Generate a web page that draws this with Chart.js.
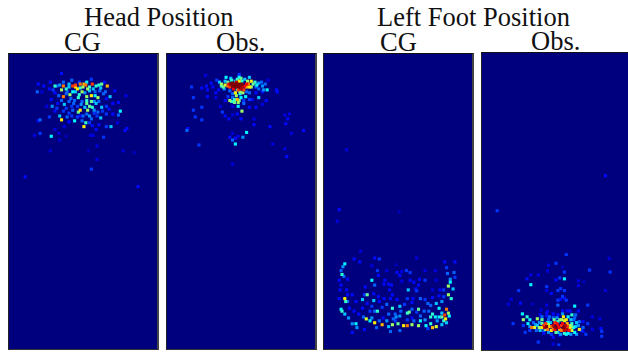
<!DOCTYPE html>
<html>
<head>
<meta charset="utf-8">
<script src="https://cdn.jsdelivr.net/npm/chart.js@4/dist/chart.umd.min.js"></script>
<style>
  html, body { margin: 0; padding: 0; background: #fff; width: 628px; height: 353px; overflow: hidden; }
  .label { position: absolute; font-family: "Liberation Serif", serif; color: #111; font-size: 26.5px; line-height: 26px; white-space: nowrap; }
  .panel { position: absolute; overflow: hidden; background: #00007f; box-sizing: border-box;
           border-top: 1px solid #111; border-right: 2px solid #444; border-bottom: 1px solid #333; border-left: 1px solid #222; }
  canvas { display: block; filter: blur(0.7px); }
</style>
</head>
<body>
<div class="label" style="left:84px;top:4px">Head Position</div>
<div class="label" style="left:64px;top:29px">CG</div>
<div class="label" style="left:216px;top:29px">Obs.</div>
<div class="label" style="left:377px;top:4px">Left Foot Position</div>
<div class="label" style="left:380px;top:29px">CG</div>
<div class="label" style="left:531px;top:28px">Obs.</div>

<div class="panel" style="left:8px;top:53px;width:151px;height:297px"><canvas id="headCg"></canvas></div>
<div class="panel" style="left:166px;top:53px;width:151px;height:297px"><canvas id="headObs"></canvas></div>
<div class="panel" style="left:323px;top:53px;width:151px;height:297px"><canvas id="footCg"></canvas></div>
<div class="panel" style="left:481px;top:52px;width:151px;height:299px"><canvas id="footObs"></canvas></div>

<script>
// Cellen: [x, y, intensitet 0-1]
const headCgCells = [
  [52,16,.2],[27,27,.2],[33,29,.2],[40,25,.2],[26,35,.3],[31,35,.15],[39,32,.2],[43,33,.25],[47,29,.3],[45,29,.5],
  [54,25,.3],[63,23,.3],[71,25,.25],[79,25,.45],[84,22,.25],[98,25,.2],[101,29,.75],[94,31,.4],[99,35,.3],[109,34,.2],[121,39,.15],
  [54,29,.8],[64,29,.85],[67,28,.85],[72,27,.8],[78,28,.8],[85,27,.85],[89,29,.5],[82,30,.5],[75,30,.6],[69,32,.7],[60,30,.4],[52,33,.6],[57,32,.5],
  [54,40,.8],[61,38,.6],[67,35,.4],[74,35,.6],[79,40,.6],[84,39,.7],[91,41,.6],[79,44,.5],[70,41,.5],[62,42,.3],[57,37,.3],[49,39,.3],[104,40,.4],[97,37,.3],[88,35,.3],[45,36,.2],
  [42,50,.35],[55,48,.4],[65,47,.3],[74,45,.3],[79,47,.55],[84,45,.55],[82,50,.55],[72,54,.7],[70,56,.55],[80,54,.6],[85,51,.5],[95,51,.4],[100,50,.25],[107,47,.2],[113,46,.2],[41,43,.2],[60,45,.3],[52,44,.3],[69,50,.25],[89,47,.4],[92,45,.3],[36,50,.15],
  [52,64,.7],[50,60,.4],[66,65,.45],[39,61,.25],[45,55,.2],[54,55,.25],[60,57,.25],[64,54,.3],[75,60,.3],[82,60,.35],[87,57,.25],[94,62,.4],[100,58,.25],[107,58,.2],[113,59,.3],[115,55,.45],[29,64,.3],[27,65,.2],
  [78,67,.5],[76,71,.7],[69,61,.25],[92,69,.2],[100,71,.25],[105,71,.4],[85,70,.2],[74,65,.3],[89,74,.2],[112,67,.15],[122,73,.2],[120,75,.2],[45,74,.15],[55,71,.15],[49,78,.15],[29,78,.25],[23,80,.15],[41,81,.45],[50,85,.15],[57,81,.1],[83,80,.15],[86,80,.15],[97,82,.25],[90,91,.15],
  [40,96,.15],[118,96,.15],[130,98,.1],[81,96,.1],[90,105,.15],[84,115,.25],[13,123,.2],[134,133,.2],
  [58,35,.3],[64,35,.45],[71,38,.5],[77,36,.35],[82,34,.4],[88,39,.45],[93,34,.3],[100,42,.2],[66,44,.3],[73,48,.35],[77,51,.4],[87,54,.35],[91,56,.3],[63,50,.25],[57,52,.25],[48,47,.2],[47,52,.25],[58,61,.3],[63,60,.25],[72,60,.2],[79,58,.3],[84,63,.3],[90,60,.25],[96,55,.25],[103,53,.2],[60,66,.2],[82,67,.25],[87,45,.35],[72,31,.5],[80,32,.6],[67,30,.7],[92,28,.5],[95,27,.55],[76,27,.75],[60,27,.4],[50,28,.35],[86,32,.4]
];
const headObsCells = [
  [64,27,1],[68,27,1],[71,27,1],[74,28,1],[66,29,1],[69,30,1],[73,30,1],[76,30,.95],[79,29,.9],[63,30,.85],[73,24,.7],[73,20,.45],[73,17,.25],[59,20,.45],[64,21,.4],[54,27,.6],[56,30,.55],[61,25,.55],[54,29,.5],
  [83,27,.8],[86,24,.7],[88,27,.55],[84,20,.4],[79,22,.4],[81,30,.75],[86,30,.6],[76,24,.5],[69,24,.4],[94,26,.35],[98,29,.35],[101,27,.3],[103,33,.45],[99,33,.35],[97,25,.3],[91,30,.3],[94,32,.3],[91,36,.2],[98,35,.2],[104,23,.15],[113,33,.2],[114,35,.2],
  [49,23,.25],[37,18,.15],[43,26,.2],[45,30,.2],[38,29,.2],[39,33,.2],[33,31,.2],[22,30,.25],[24,41,.25],[39,40,.2],[48,36,.2],[51,33,.2],[48,41,.15],[61,40,.25],[69,36,.7],[74,35,.6],[71,33,.5],[74,37,.45],[81,35,.3],[80,40,.45],
  [63,44,.6],[71,43,.75],[73,44,.55],[58,44,.2],[66,41,.3],[78,44,.25],[84,43,.25],[87,43,.2],[94,41,.4],[102,44,.2],[98,48,.15],[72,50,.45],[76,55,.6],[53,50,.15],[66,50,.15],[84,51,.2],[91,51,.2],[24,54,.25],[33,51,.25],[55,56,.25],
  [71,58,.2],[66,59,.15],[58,60,.2],[62,63,.2],[75,63,.2],[26,61,.25],[33,64,.25],[89,63,.15],[89,69,.2],[106,71,.2],[123,68,.2],[125,63,.2],[122,59,.15],[127,58,.15],[142,75,.2],[129,78,.15],[17,75,.3],[18,73,.2],
  [66,78,.15],[63,82,.2],[69,83,.2],[66,85,.3],[77,82,.35],[81,77,.45],[72,81,.15],[69,89,.45],[30,90,.25],[109,89,.15],[122,94,.15],[124,102,.2],[66,110,.15],
  [62,27,.9],[66,26,1],[70,25,.95],[72,29,1],[75,32,.95],[78,33,.85],[67,32,.9],[61,29,.8],[58,28,.65],[72,33,.85],[76,27,1],[81,27,.9],[84,30,.7],[77,36,.6],[70,39,.6],[68,43,.5],[75,41,.45],[90,25,.5],[92,28,.45],[65,23,.5],[75,21,.55],[71,22,.5],[82,24,.6],[52,25,.4],[58,24,.4],[57,32,.35],[63,34,.3],[84,36,.3],[66,37,.3],[72,46,.6],[68,46,.55],[65,45,.5],[78,47,.3]
];
const footCgCells = [
  [18,213,.45],[16,216,.35],[14,220,.3],[15,224,.5],[17,226,.3],[12,230,.2],[21,229,.2],[14,235,.2],[13,240,.2],[20,240,.2],[12,249,.2],[18,249,.7],[19,252,.5],[21,252,.3],[14,260,.45],[15,262,.5],[18,265,.4],[23,259,.2],[22,269,.35],[26,275,.35],[30,275,.45],[31,279,.35],[26,284,.2],[39,281,.2],
  [35,200,.15],[28,208,.2],[34,211,.2],[50,207,.2],[55,208,.25],[47,215,.15],[53,220,.25],[54,225,.2],[63,220,.15],[73,214,.1],[74,222,.2],[79,221,.15],[84,220,.25],[88,222,.25],[95,207,.15],[104,220,.15],[115,220,.15],[125,211,.2],[136,211,.2],[127,217,.25],[135,222,.3],[128,223,.3],[136,227,.25],[131,229,.35],[131,232,.45],[129,236,.6],[134,239,.4],[124,240,.25],[129,245,.6],[132,249,.5],[124,247,.25],[120,240,.2],[116,230,.15],
  [47,230,.45],[40,237,.2],[50,235,.3],[61,230,.2],[60,234,.2],[65,234,.2],[68,235,.2],[66,240,.2],[77,225,.2],[79,231,.15],[88,230,.2],[92,232,.2],[98,229,.2],[104,230,.25],[97,235,.2],[86,240,.4],[94,239,.2],[95,241,.25],[112,240,.15],[21,245,.2],
  [26,245,.2],[30,252,.2],[37,250,.4],[42,245,.55],[49,244,.2],[49,251,.4],[54,247,.2],[55,252,.2],[60,249,.2],[67,249,.2],[69,245,.2],[74,250,.2],[39,245,.25],[85,249,.25],[91,249,.2],[99,249,.3],[104,250,.25],[112,248,.2],[119,246,.2],[122,252,.35],
  [37,259,.2],[42,254,.2],[47,257,.25],[53,262,.5],[50,262,.3],[69,259,.5],[77,257,.4],[78,262,.3],[97,260,.55],[90,260,.3],[85,264,.5],[87,263,.55],[107,254,.3],[110,256,.3],[116,254,.4],[127,260,.8],[125,266,.85],[129,264,.6],[130,267,.45],[122,264,.4],[124,272,.5],[119,259,.45],[112,265,.5],[110,268,.5],[127,274,.4],
  [41,270,.65],[45,272,.45],[50,274,.7],[47,269,.35],[58,276,.75],[52,279,.3],[65,278,.4],[69,276,.6],[72,272,.25],[75,275,.55],[77,267,.35],[65,265,.3],[72,265,.3],[77,282,.3],[67,283,.3],[81,277,.7],[85,277,.8],[90,276,.6],[97,277,.6],[99,272,.45],[104,271,.35],[99,267,.3],[105,277,.45],[110,275,.5],[112,279,.75],[116,278,.65],[122,276,.4],[107,280,.25],[117,272,.35],[59,269,.2],[90,269,.2],[85,271,.25],
  [20,95,.15],[12,157,.2],[10,169,.15],[76,159,.1],
  [55,272,.3],[63,272,.35],[73,268,.35],[92,272,.3],[95,263,.25],[103,262,.3],[115,268,.45],[119,268,.45],[122,268,.55],[126,270,.7],[28,262,.2],[33,265,.2],[38,268,.3],[108,262,.3],[58,258,.25],[63,255,.3],[82,255,.25],[90,253,.2],[45,262,.25],[70,270,.3]
];
const footObsCells = [
  [86,203,.25],[132,207,.15],[75,212,.25],[67,214,.15],[82,216,.1],[111,219,.25],[66,220,.15],[84,221,.25],[133,221,.25],[48,224,.15],[56,224,.15],[44,228,.2],[79,227,.25],[75,229,.2],[84,228,.45],[48,234,.45],[99,230,.15],[105,231,.1],[65,236,.25],[99,235,.15],[80,238,.25],[77,240,.25],[84,240,.25],[35,240,.25],[65,240,.15],[128,240,.15],[70,243,.2],
  [82,246,.25],[84,248,.2],[77,250,.25],[80,249,.2],[86,250,.25],[27,249,.15],[37,253,.2],[24,254,.15],[50,254,.1],[77,255,.3],[65,255,.15],[95,256,.45],[109,255,.25],[59,260,.15],[66,261,.15],[65,263,.2],[99,261,.2],[39,264,.45],[72,264,.2],[77,265,.2],[82,261,.2],[87,261,.2],[90,261,.2],[92,265,.5],[96,265,.3],[114,267,.15],[122,269,.15],
  [44,267,.5],[40,270,.6],[47,270,.45],[45,274,.45],[29,274,.25],[40,276,.25],[42,283,.25],[47,281,.25],[109,274,.25],[104,272,.2],[114,280,.15],[123,279,.2],[124,282,.25],[124,287,.25],[107,285,.25],[56,293,.25],[78,296,.25],[72,295,.15],[72,288,.2],[79,286,.2],[102,281,.25],
  [49,278,.8],[52,278,.65],[55,269,.6],[60,270,.55],[64,274,.85],[63,278,.95],[65,277,1],[60,278,.7],[69,273,.4],[74,273,.85],[72,276,.95],[75,278,1],[77,276,.9],[74,280,.9],[70,281,.7],[79,280,.75],[83,267,.7],[86,270,.7],[82,274,.9],[83,278,1],[86,280,.95],[84,281,.95],[89,281,.9],[92,274,.5],[94,278,.45],[95,283,.45],[100,280,.7],[97,273,.4],[91,270,.4],[79,270,.55],[67,270,.3],[55,276,.4],[67,283,.35],[77,283,.4],[86,285,.45],[62,281,.3],[54,281,.3],[65,266,.2],[72,268,.3],[104,278,.3],[97,285,.35],[77,272,.5],[57,273,.35],[51,273,.3],[90,276,.6],[94,270,.3],
  [128,122,.2],[12,158,.25],
  [57,278,.6],[66,280,.8],[68,277,.7],[60,274,.55],[62,276,.85],[67,275,.6],[70,277,.8],[73,270,.55],[76,274,.9],[78,278,.9],[81,276,.85],[85,276,.95],[81,281,.8],[87,277,.85],[87,274,.75],[90,279,.7],[92,281,.65],[75,283,.55],[72,280,.8],[64,280,.6],[58,281,.4],[84,271,.65],[81,270,.6],[84,284,.5],[88,284,.45],[66,273,.45],[92,277,.55],[96,277,.4],[99,276,.35],[60,267,.3],[68,267,.3],[76,268,.35],[88,267,.45],[95,268,.3],[82,264,.35],[100,272,.3],[104,282,.2],[91,285,.35],[80,285,.35],[70,285,.25],[62,284,.2],[53,275,.35],[47,277,.35],[58,265,.2]
];
const fieldWidth = 150;
const fieldHeight = 297;

// Jet-färgskala, v mellan 0 och 1
function jet(v) {
  const t = Math.pow(v, 1.25);
  const part = (c) => Math.round(255 * Math.max(0, Math.min(1, 1.5 - Math.abs(4 * t - c))));
  return 'rgb(' + part(3) + ',' + part(2) + ',' + part(1) + ')';
}

function drawPanel(id, cells) {
  const canvas = document.getElementById(id);
  const box = canvas.parentElement;
  canvas.width = box.clientWidth;
  canvas.height = box.clientHeight;
  const sorted = cells.slice().sort((a, b) => a[2] - b[2]);

  new Chart(canvas, {
    type: 'scatter',
    data: {
      datasets: [{
        data: sorted.map(c => ({ x: c[0], y: c[1] })),
        backgroundColor: sorted.map(c => jet(c[2])),
        borderWidth: 0,
        pointStyle: 'rect',
        pointRadius: 2.2
      }]
    },
    options: {
      responsive: false,
      animation: false,
      devicePixelRatio: 1,
      layout: { padding: 0 },
      plugins: { legend: { display: false }, tooltip: { enabled: false } },
      scales: {
        x: { display: false, min: 0, max: fieldWidth },
        y: { display: false, min: 0, max: fieldHeight, reverse: true }
      }
    }
  });
}

drawPanel('headCg', headCgCells);
drawPanel('headObs', headObsCells);
drawPanel('footCg', footCgCells);
drawPanel('footObs', footObsCells);
</script>
</body>
</html>
